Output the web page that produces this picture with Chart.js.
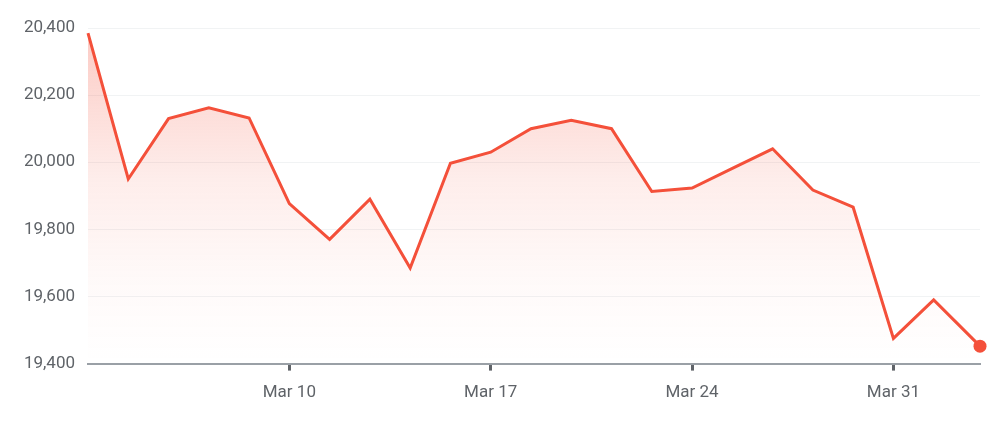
<!DOCTYPE html>
<html>
<head>
<meta charset="utf-8">
<script src="https://cdn.jsdelivr.net/npm/chart.js@4/dist/chart.umd.min.js"></script>
<style>
  html, body { margin: 0; padding: 0; background: #fff; }
  #wrap { width: 1003px; height: 421px; position: relative; }
</style>
</head>
<body>
<div id="wrap"><canvas id="chart"></canvas></div>
<script>
const LINE_COLOR = "#f4503a";

// trading-day index of each point (last one sits a little past Apr 1)
const dayIndex = [0, 1, 2, 3, 4, 5, 6, 7, 8, 9, 10, 11, 12, 13, 14, 15, 16, 17, 18, 19, 20, 21, 22.15];
const closeValues = [
  20385, 19950, 20130, 20162, 20132,
  19877, 19770, 19890, 19685, 19997,
  20030, 20100, 20125, 20100, 19913,
  19923, 19982, 20040, 19917, 19866,
  19475, 19590, 19452,
];
const tickPositions = [5, 10, 15, 20];
const tickLabels = ["Mar 10", "Mar 17", "Mar 24", "Mar 31"];
const yTicks = [19400, 19600, 19800, 20000, 20200, 20400];

const points = dayIndex.map((x, i) => ({ x, y: closeValues[i] }));
const lastIdx = points.length - 1;

function fillGradient(ctx) {
  const area = ctx.chart.chartArea;
  if (!area) return "rgba(244, 80, 58, 0.15)";
  const g = ctx.chart.ctx.createLinearGradient(0, area.top, 0, area.bottom);
  g.addColorStop(0, "rgba(244, 80, 58, 0.3)");
  g.addColorStop(0.45, "rgba(244, 80, 58, 0.1)");
  g.addColorStop(0.75, "rgba(244, 80, 58, 0.03)");
  g.addColorStop(1, "rgba(244, 80, 58, 0)");
  return g;
}

new Chart(document.getElementById("chart"), {
  type: "line",
  data: {
    datasets: [{
      data: points,
      borderColor: LINE_COLOR,
      borderWidth: 3,
      fill: "start",
      backgroundColor: fillGradient,
      tension: 0,
      pointRadius: (ctx) => (ctx.dataIndex === lastIdx ? 6.5 : 0),
      pointHoverRadius: 0,
      pointBackgroundColor: LINE_COLOR,
      pointBorderWidth: 0,
      clip: 10,
    }],
  },
  options: {
    responsive: true,
    maintainAspectRatio: false,
    animation: false,
    layout: { padding: { top: 28, right: 23, bottom: 6, left: 0 } },
    plugins: { legend: { display: false }, tooltip: { enabled: false } },
    scales: {
      x: {
        type: "linear",
        min: dayIndex[0],
        max: dayIndex[lastIdx],
        afterBuildTicks(scale) {
          scale.ticks = tickPositions.map((v) => ({ value: v }));
        },
        border: { display: true, color: "#9aa0a6", width: 2 },
        grid: { drawOnChartArea: false, drawTicks: true, tickLength: 7, tickColor: "#5f6368", tickWidth: 3 },
        ticks: {
          padding: 12,
          color: "#5f6368",
          font: { family: "Roboto", size: 17 },
          maxRotation: 0,
          callback(value) {
            const i = tickPositions.indexOf(value);
            return i >= 0 ? tickLabels[i] : "";
          },
        },
      },
      y: {
        min: yTicks[0],
        max: yTicks[yTicks.length - 1],
        afterBuildTicks(scale) {
          scale.ticks = yTicks.map((v) => ({ value: v }));
        },
        afterFit(scale) { scale.width = 88; },
        border: { display: false },
        grid: { color: "#f1f3f4", lineWidth: 1, drawTicks: false },
        ticks: {
          padding: 13,
          color: "#5f6368",
          font: { family: "Roboto", size: 17 },
          callback: (v) => Number(v).toLocaleString("en-US"),
        },
      },
    },
  },
});
</script>
</body>
</html>
